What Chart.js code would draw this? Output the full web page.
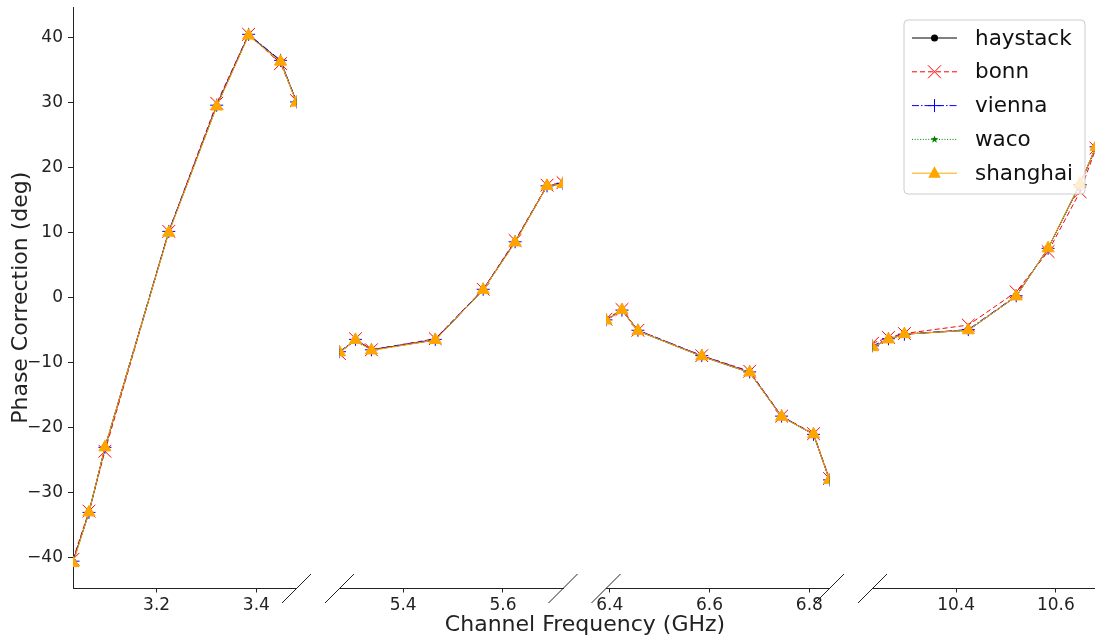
<!DOCTYPE html>
<html>
<head>
<meta charset="utf-8">
<script src="https://cdn.jsdelivr.net/npm/chart.js@4/dist/chart.umd.min.js"></script>
<style>
html, body { margin: 0; padding: 0; background: #fff; }
#wrap { position: relative; width: 1095px; height: 641px; overflow: hidden; }
#wrap canvas { position: absolute; left: 0; top: 0; }
</style>
</head>
<body>
<div id="wrap">
	<canvas id="p0" width="1095" height="641"></canvas>
	<canvas id="p1" width="1095" height="641"></canvas>
	<canvas id="p2" width="1095" height="641"></canvas>
	<canvas id="p3" width="1095" height="641"></canvas>
</div>
<script>
// channel frequencies (GHz), one array per band
var freqA = [3.0324, 3.0644, 3.0964, 3.2244, 3.3204, 3.3844, 3.4484, 3.4804];
var freqB = [5.2724, 5.3044, 5.3364, 5.4644, 5.5604, 5.6244, 5.6884, 5.7204];
var freqC = [6.3924, 6.4244, 6.4564, 6.5844, 6.6804, 6.7444, 6.8084, 6.8404];
var freqD = [10.2324, 10.2644, 10.2964, 10.4244, 10.5204, 10.5844, 10.6484, 10.6804];

// tick labels per band
var ticksA = [3.2, 3.4];
var ticksB = [5.4, 5.6];
var ticksC = [6.4, 6.6, 6.8];
var ticksD = [10.4, 10.6];
var yTicks = [-40, -30, -20, -10, 0, 10, 20, 30, 40];

// phase correction (deg), 8 channels per band, bands A..D
var haystack = [-40.6, -33.0, -23.1, 10.1, 29.5, 40.4, 36.4, 30.1,
	-8.4, -6.5, -8.0, -6.5, 1.2, 8.6, 17.2, 17.5,
	-3.5, -1.9, -5.1, -9.0, -11.5, -18.3, -21.0, -28.0,
	-7.6, -6.4, -5.6, -5.0, 0.2, 7.6, 17.5, 23.2];
var bonn = [-40.2, -32.8, -23.6, 10.2, 29.9, 40.5, 36.0, 30.3,
	-8.6, -6.3, -8.0, -6.3, 1.3, 8.8, 17.3, 17.7,
	-3.3, -1.8, -5.0, -8.9, -11.3, -18.2, -20.9, -27.8,
	-7.0, -6.1, -5.5, -4.2, 0.9, 7.1, 16.3, 23.0];
var vienna = [-40.5, -33.0, -23.0, 10.2, 29.6, 40.5, 36.5, 30.1,
	-8.3, -6.4, -8.0, -6.4, 1.3, 8.6, 17.2, 17.6,
	-3.4, -1.9, -5.0, -8.9, -11.4, -18.2, -21.0, -28.0,
	-7.4, -6.3, -5.6, -4.9, 0.3, 7.6, 17.4, 23.2];
var waco = [-40.7, -33.1, -23.0, 10.0, 29.4, 40.3, 36.3, 30.0,
	-8.4, -6.5, -8.1, -6.5, 1.2, 8.5, 17.2, 17.5,
	-3.5, -1.9, -5.1, -9.0, -11.5, -18.3, -21.0, -28.0,
	-7.6, -6.4, -5.6, -5.0, 0.2, 7.6, 17.5, 23.2];
var shanghai = [-40.8, -33.0, -23.0, 10.0, 29.4, 40.3, 36.3, 30.0,
	-8.4, -6.5, -8.1, -6.5, 1.2, 8.5, 17.2, 17.5,
	-3.5, -1.9, -5.1, -9.0, -11.5, -18.3, -21.0, -28.0,
	-7.6, -6.4, -5.6, -5.0, 0.2, 7.6, 17.5, 23.2];

var bandFreqs = [freqA, freqB, freqC, freqD];
var bandTicks = [ticksA, ticksB, ticksC, ticksD];

var stations = [
	{label: 'haystack', data: haystack, color: '#000000', dash: [], point: 'circle', r: 3, order: 4},
	{label: 'bonn', data: bonn, color: '#ff0000', dash: [5, 3], point: 'crossRot', r: 9, order: 3},
	{label: 'vienna', data: vienna, color: '#0000ff', dash: [7, 2, 1.5, 2], point: 'cross', r: 6.5, order: 2},
	{label: 'waco', data: waco, color: '#008000', dash: [1, 1.7], point: 'star', r: 3.5, order: 1},
	{label: 'shanghai', data: shanghai, color: '#ffa500', dash: [], point: 'triangle', r: 7, order: 0}
];

// panel placement on the page
var plotLeft = [73, 339.5, 606, 872.5];
var plotWidth = 223.5;
var plotTop = 7, plotBottom = 588.5;
var canvasW = 1095, canvasH = 641;
var xAxisH = 34;

Chart.defaults.font.family = "'DejaVu Sans', sans-serif";
Chart.defaults.color = '#222';

function unicodeMinus(v) {
	return String(v).replace('-', '\u2212');
}

// little slashes where the x axis is broken
var breakMarks = {
	id: 'breakMarks',
	afterDraw: function(chart, args, opts) {
		var a = chart.chartArea, ctx = chart.ctx;
		var xs = [];
		if (opts.left) xs.push(a.left);
		if (opts.right) xs.push(a.right);
		ctx.save();
		ctx.strokeStyle = '#222';
		ctx.lineWidth = 1;
		xs.forEach(function(x) {
			ctx.beginPath();
			ctx.moveTo(x - 14.5, a.bottom + 14.5);
			ctx.lineTo(x + 14.5, a.bottom - 14.5);
			ctx.stroke();
		});
		ctx.restore();
	}
};

// shared x label under all panels
var xTitle = {
	id: 'xTitle',
	afterDraw: function(chart, args, opts) {
		if (!opts.show) return;
		var ctx = chart.ctx;
		ctx.save();
		ctx.fillStyle = '#222';
		ctx.font = "22px 'DejaVu Sans'";
		ctx.textAlign = 'center';
		ctx.textBaseline = 'middle';
		ctx.fillText('Channel Frequency (GHz)', 585, 625);
		ctx.restore();
	}
};

function drawMarker(ctx, type, x, y, color) {
	ctx.save();
	ctx.strokeStyle = color;
	ctx.fillStyle = color;
	ctx.lineWidth = 1;
	ctx.setLineDash([]);
	ctx.beginPath();
	if (type === 'circle') {
		ctx.arc(x, y, 3.5, 0, Math.PI * 2);
		ctx.fill();
	} else if (type === 'crossRot') {
		ctx.moveTo(x - 6.5, y - 6.5); ctx.lineTo(x + 6.5, y + 6.5);
		ctx.moveTo(x - 6.5, y + 6.5); ctx.lineTo(x + 6.5, y - 6.5);
		ctx.stroke();
	} else if (type === 'cross') {
		ctx.moveTo(x - 6.5, y); ctx.lineTo(x + 6.5, y);
		ctx.moveTo(x, y - 6.5); ctx.lineTo(x, y + 6.5);
		ctx.stroke();
	} else if (type === 'star') {
		for (var k = 0; k < 10; k++) {
			var ang = -Math.PI / 2 + k * Math.PI / 5;
			var rr = k % 2 === 0 ? 4 : 1.7;
			var px = x + Math.cos(ang) * rr, py = y + Math.sin(ang) * rr;
			if (k === 0) ctx.moveTo(px, py); else ctx.lineTo(px, py);
		}
		ctx.closePath();
		ctx.fill();
	} else if (type === 'triangle') {
		ctx.moveTo(x, y - 7);
		ctx.lineTo(x + 6.3, y + 4.5);
		ctx.lineTo(x - 6.3, y + 4.5);
		ctx.closePath();
		ctx.fill();
	}
	ctx.restore();
}

// legend drawn over the last panel (semi-transparent, like matplotlib)
var legendBox = {
	id: 'legendBox',
	afterDraw: function(chart, args, opts) {
		if (!opts.show) return;
		var ctx = chart.ctx;
		var bx = 904, by = 20, bw = 181, bh = 174, rad = 4;
		ctx.save();
		ctx.beginPath();
		ctx.moveTo(bx + rad, by);
		ctx.arcTo(bx + bw, by, bx + bw, by + bh, rad);
		ctx.arcTo(bx + bw, by + bh, bx, by + bh, rad);
		ctx.arcTo(bx, by + bh, bx, by, rad);
		ctx.arcTo(bx, by, bx + bw, by, rad);
		ctx.closePath();
		ctx.fillStyle = 'rgba(255,255,255,0.8)';
		ctx.fill();
		ctx.strokeStyle = '#cccccc';
		ctx.lineWidth = 1;
		ctx.stroke();

		ctx.font = "21.5px 'DejaVu Sans'";
		ctx.textBaseline = 'middle';
		ctx.textAlign = 'left';
		stations.forEach(function(s, i) {
			var y = 38 + i * 33.8;
			ctx.save();
			ctx.strokeStyle = s.color;
			ctx.lineWidth = 1;
			ctx.setLineDash(s.dash);
			ctx.beginPath();
			ctx.moveTo(912, y);
			ctx.lineTo(957, y);
			ctx.stroke();
			ctx.restore();
			drawMarker(ctx, s.point, 934.5, y, s.color);
			ctx.fillStyle = '#111';
			ctx.fillText(s.label, 975, y + 1);
		});
		ctx.restore();
	}
};

for (var i = 0; i < 4; i++) {
	(function(i) {
		var fr = bandFreqs[i];
		var datasets = stations.map(function(s) {
			var pts = fr.map(function(f, j) { return {x: f, y: s.data[i * 8 + j]}; });
			return {
				label: s.label,
				data: pts,
				order: s.order,
				borderColor: s.color,
				backgroundColor: s.color,
				borderWidth: 1,
				borderDash: s.dash,
				pointStyle: s.point,
				pointRadius: s.r,
				pointBackgroundColor: s.color,
				pointBorderColor: s.color,
				pointBorderWidth: 1,
				tension: 0,
				fill: false
			};
		});
		var left = plotLeft[i];
		var right = Math.min(left + plotWidth, canvasW);
		var span = fr[fr.length - 1] - fr[0];
		var xMax = fr[0] + (right - left) / plotWidth * span;
		var padLeft = i === 0 ? 0 : left;
		var padRight = canvasW - right;
		var padBottom = canvasH - plotBottom - xAxisH;

		new Chart(document.getElementById('p' + i), {
			type: 'line',
			data: {datasets: datasets},
			options: {
				responsive: false,
				animation: false,
				events: [],
				layout: {
					autoPadding: false,
					padding: {left: padLeft, right: padRight, top: plotTop, bottom: padBottom}
				},
				scales: {
					x: {
						type: 'linear',
						min: fr[0],
						max: xMax,
						grid: {display: true, drawOnChartArea: false, drawTicks: true, tickLength: 4, color: '#222'},
						border: {display: true, color: '#222', width: 1},
						ticks: {
							padding: 3,
							font: {size: 17},
							color: '#222',
							maxRotation: 0,
							callback: function(v) { return v.toFixed(1); }
						},
						afterBuildTicks: function(s) {
							s.ticks = bandTicks[i].map(function(v) { return {value: v}; });
						},
						afterFit: function(s) {
							s.height = xAxisH;
							s.paddingLeft = 0;
							s.paddingRight = 0;
						}
					},
					y: {
						type: 'linear',
						display: i === 0,
						min: -44.7,
						max: 44.7,
						grid: {display: true, drawOnChartArea: false, drawTicks: true, tickLength: 5, color: '#222'},
						border: {display: true, color: '#222', width: 1},
						ticks: {
							padding: 5,
							font: {size: 17},
							color: '#222',
							callback: function(v) { return unicodeMinus(v); }
						},
						title: {
							display: true,
							text: 'Phase Correction (deg)',
							font: {size: 22},
							color: '#222',
							padding: {top: 8, bottom: 0}
						},
						afterBuildTicks: function(s) {
							s.ticks = yTicks.map(function(v) { return {value: v}; });
						},
						afterFit: function(s) {
							if (i === 0) s.width = plotLeft[0];
							s.paddingTop = 0;
							s.paddingBottom = 0;
						}
					}
				},
				plugins: {
					legend: {display: false},
					tooltip: {enabled: false},
					breakMarks: {left: i > 0, right: i < 3},
					xTitle: {show: i === 0},
					legendBox: {show: i === 3}
				}
			},
			plugins: [breakMarks, xTitle, legendBox]
		});
	})(i);
}
</script>
</body>
</html>
